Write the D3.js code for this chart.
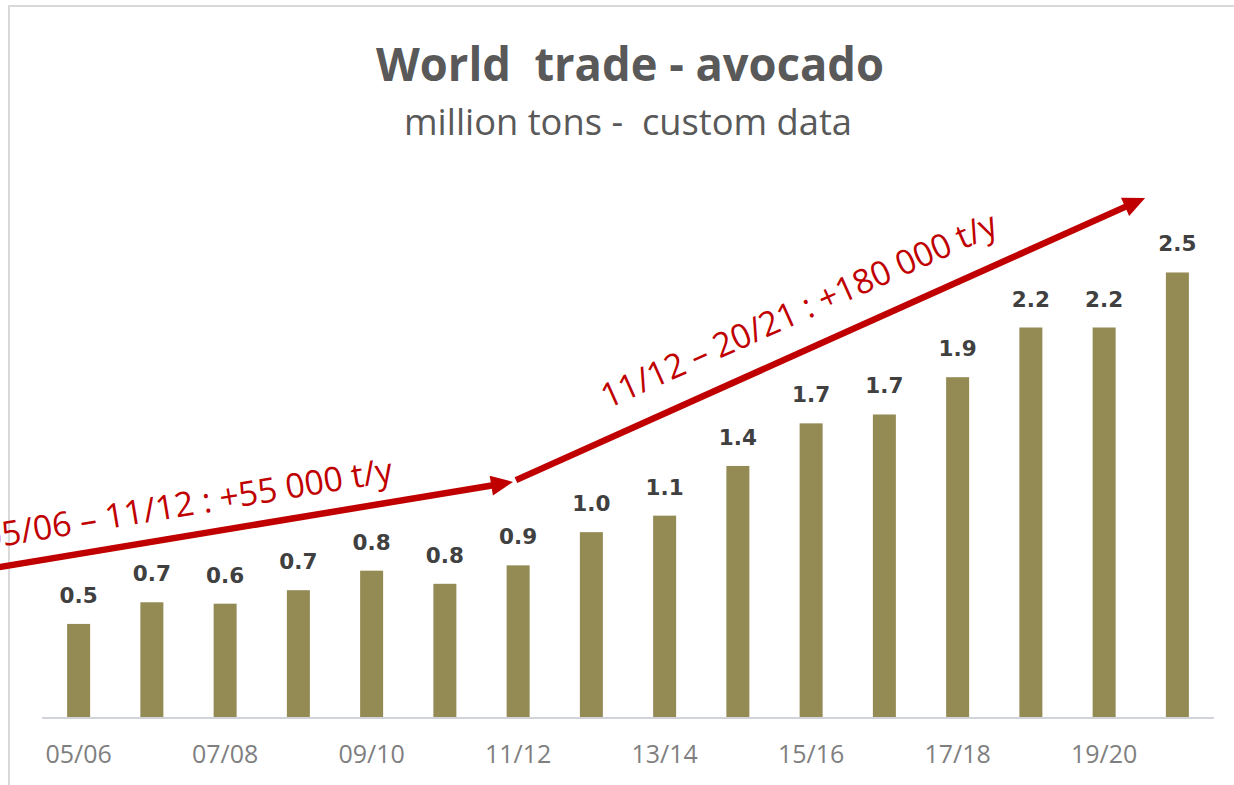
<!DOCTYPE html>
<html>
<head>
<meta charset="utf-8">
<script src="https://cdn.jsdelivr.net/npm/d3@7"></script>
<style>
  html, body { margin: 0; padding: 0; background: #fff; }
  #chart { width: 1234px; height: 785px; }
</style>
</head>
<body>
<div id="chart"></div>
<script>
// seasons on the x axis
const seasons = ["05/06", "06/07", "07/08", "08/09", "09/10", "10/11", "11/12", "12/13",
  "13/14", "14/15", "15/16", "16/17", "17/18", "18/19", "19/20", "20/21"];

// world trade, million tons
const tradeValues = [0.53, 0.652, 0.644, 0.72, 0.83, 0.756, 0.86, 1.047,
  1.14, 1.42, 1.66, 1.71, 1.92, 2.2, 2.2, 2.51];

// only every other season gets a tick label
const tickLabels = ["05/06", "07/08", "09/10", "11/12", "13/14", "15/16", "17/18", "19/20"];

// trend arrows: season index (fractional) and value at start / tip
const trendLabels = ["05/06 \u2013 11/12 : +55 000 t/y", "11/12 \u2013 20/21 : +180 000 t/y"];
const trendStart = [[-1.3, 0.835], [5.97, 1.34]];
const trendEnd = [[5.93, 1.33], [14.56, 2.93]];

const width = 1234;
const height = 785;
const margin = { top: 185.5, right: 20, bottom: 67, left: 42 };
const plotRight = 1214;

const svg = d3
  .select("#chart")
  .append("svg")
  .attr("width", width)
  .attr("height", height)
  .attr("viewBox", `0 0 ${width} ${height}`);

svg.append("rect")
  .attr("width", width)
  .attr("height", height)
  .attr("fill", "#ffffff");

// chart frame (only top and left edges are visible)
svg.append("rect")
  .attr("x", 9)
  .attr("y", 6)
  .attr("width", width + 40)
  .attr("height", height + 40)
  .attr("fill", "none")
  .attr("stroke", "#d9d9d9")
  .attr("stroke-width", 2);

// titles
svg.append("text")
  .attr("x", 630)
  .attr("y", 81)
  .attr("text-anchor", "middle")
  .attr("font-family", "'Open Sans', sans-serif")
  .attr("font-weight", 700)
  .attr("font-size", 47)
  .attr("fill", "#595959")
  .attr("textLength", 508)
  .attr("lengthAdjust", "spacingAndGlyphs")
  .style("white-space", "pre")
  .text("World  trade - avocado");

svg.append("text")
  .attr("x", 628)
  .attr("y", 135)
  .attr("text-anchor", "middle")
  .attr("font-family", "'Open Sans', sans-serif")
  .attr("font-size", 37)
  .attr("fill", "#595959")
  .attr("textLength", 448)
  .attr("lengthAdjust", "spacingAndGlyphs")
  .style("white-space", "pre")
  .text("million tons -  custom data");

const baseline = height - margin.bottom; // 718

const x = d3
  .scaleBand()
  .domain(seasons)
  .range([margin.left, plotRight])
  .paddingInner(0.686)
  .paddingOuter(0.343);

const y = d3
  .scaleLinear()
  .domain([0, 3])
  .range([baseline, margin.top]);

// fractional season index -> pixel x (band centres)
const pos = d3
  .scaleLinear()
  .domain([0, seasons.length - 1])
  .range([x(seasons[0]) + x.bandwidth() / 2, x(seasons[seasons.length - 1]) + x.bandwidth() / 2]);

const data = seasons.map((s, i) => ({ season: s, value: tradeValues[i] }));
const fmt = d3.format(".1f");

// bars
svg.append("g")
  .selectAll("rect")
  .data(data)
  .enter()
  .append("rect")
  .attr("x", (d) => x(d.season))
  .attr("y", (d) => y(d.value))
  .attr("width", x.bandwidth())
  .attr("height", (d) => y(0) - y(d.value))
  .attr("fill", "#948a54");

// value labels
svg.append("g")
  .selectAll("text")
  .data(data)
  .enter()
  .append("text")
  .attr("x", (d) => x(d.season) + x.bandwidth() / 2)
  .attr("y", (d) => y(d.value) - 21)
  .attr("text-anchor", "middle")
  .attr("font-family", "'DejaVu Sans', sans-serif")
  .attr("font-weight", 700)
  .attr("font-size", 21.5)
  .attr("fill", "#404040")
  .text((d) => fmt(d.value));

// x axis
svg.append("g")
  .attr("transform", `translate(0, ${baseline})`)
  .call(d3.axisBottom(x).tickValues(tickLabels).tickSize(0))
  .call((g) => g.select(".domain").remove())
  .call((g) => g.selectAll("text")
    .attr("font-family", "'Open Sans', sans-serif")
    .attr("font-size", 25)
    .attr("fill", "#7f7f7f")
    .attr("dy", "1.68em"));

svg.append("line")
  .attr("x1", margin.left)
  .attr("x2", plotRight)
  .attr("y1", baseline)
  .attr("y2", baseline)
  .attr("stroke", "#d0d3da")
  .attr("stroke-width", 2);

// trend arrows with labels
const red = "#c00000";
const labelOffset = [20, 27.5];
const labelAt = [0.395, 0.475];

trendLabels.forEach((label, i) => {
  const x1 = pos(trendStart[i][0]);
  const y1 = y(trendStart[i][1]);
  const x2 = pos(trendEnd[i][0]);
  const y2 = y(trendEnd[i][1]);
  const angle = Math.atan2(y2 - y1, x2 - x1);
  const headLen = 22;
  const headHalf = 10;
  const bx = x2 - headLen * Math.cos(angle);
  const by = y2 - headLen * Math.sin(angle);
  const nx = -Math.sin(angle);
  const ny = Math.cos(angle);

  svg.append("line")
    .attr("x1", x1)
    .attr("y1", y1)
    .attr("x2", bx + 2 * Math.cos(angle))
    .attr("y2", by + 2 * Math.sin(angle))
    .attr("stroke", red)
    .attr("stroke-width", 6.5);

  svg.append("path")
    .attr("d", `M${x2},${y2}L${bx + nx * headHalf},${by + ny * headHalf}L${bx - nx * headHalf},${by - ny * headHalf}Z`)
    .attr("fill", red);

  const t = labelAt[i];
  const cx = x1 + (x2 - x1) * t - nx * labelOffset[i];
  const cy = y1 + (y2 - y1) * t - ny * labelOffset[i];

  svg.append("text")
    .attr("transform", `translate(${cx}, ${cy}) rotate(${(angle * 180) / Math.PI})`)
    .attr("text-anchor", "middle")
    .attr("font-family", "'Open Sans', sans-serif")
    .attr("font-size", 34)
    .attr("fill", red)
    .attr("textLength", i === 0 ? 415 : 430)
    .attr("lengthAdjust", "spacingAndGlyphs")
    .text(label);
});
</script>
</body>
</html>
